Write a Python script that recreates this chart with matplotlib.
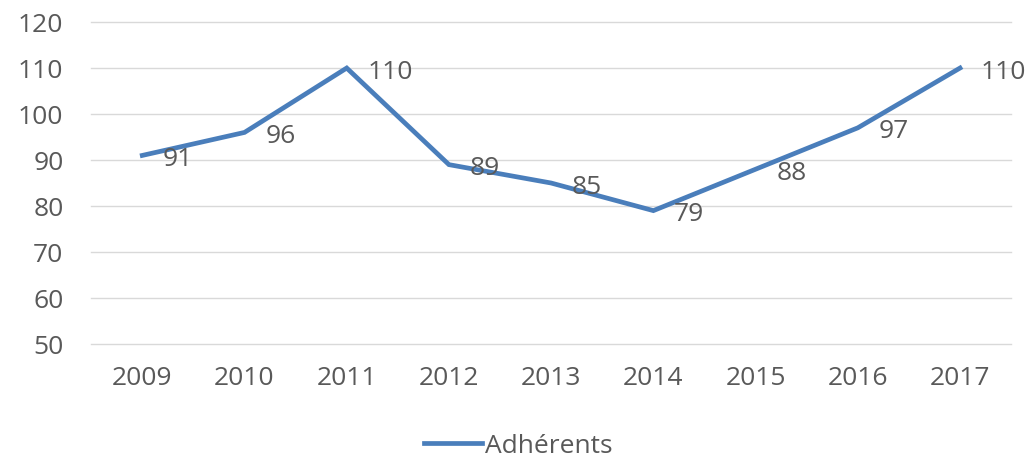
import matplotlib.pyplot as plt

years = ["2009", "2010", "2011", "2012", "2013", "2014", "2015", "2016", "2017"]
adherents = [91, 96, 110, 89, 85, 79, 88, 97, 110]
y_ticks = [50, 60, 70, 80, 90, 100, 110, 120]

plt.rcParams["font.family"] = ["Open Sans", "DejaVu Sans"]
text_color = "#595959"
line_color = "#4A7EBB"

fig = plt.figure(figsize=(10.36, 4.59), dpi=100)
ax = fig.add_axes([0.088, 0.2505, 0.888, 0.7015])

x = list(range(len(years)))
ax.plot(x, adherents, color=line_color, linewidth=3.4, label="Adhérents",
        solid_joinstyle="miter", zorder=3)

for xi, v in zip(x, adherents):
    ax.annotate(str(v), (xi, v), xytext=(15, -3), textcoords="offset points",
                ha="left", va="center", fontsize=19, color=text_color,
                annotation_clip=False)

ax.set_xlim(-0.5, len(years) - 0.5)
ax.set_ylim(50, 120)
ax.set_xticks(x)
ax.set_xticklabels(years)
ax.set_yticks(y_ticks)

ax.grid(axis="y", color="#D9D9D9", linewidth=1)
for gl in ax.get_ygridlines():
    gl.set_clip_on(False)
ax.set_axisbelow(True)
for s in ax.spines.values():
    s.set_visible(False)
ax.tick_params(axis="both", length=0, labelsize=19, colors=text_color)
ax.tick_params(axis="y", pad=20)
ax.tick_params(axis="x", pad=16)

leg = fig.legend(loc="center", bbox_to_anchor=(0.5, 0.028), frameon=False,
                 fontsize=19, handlelength=2.2, handletextpad=0.1)
for t in leg.get_texts():
    t.set_color(text_color)

fig.savefig("out.png", dpi=100)
